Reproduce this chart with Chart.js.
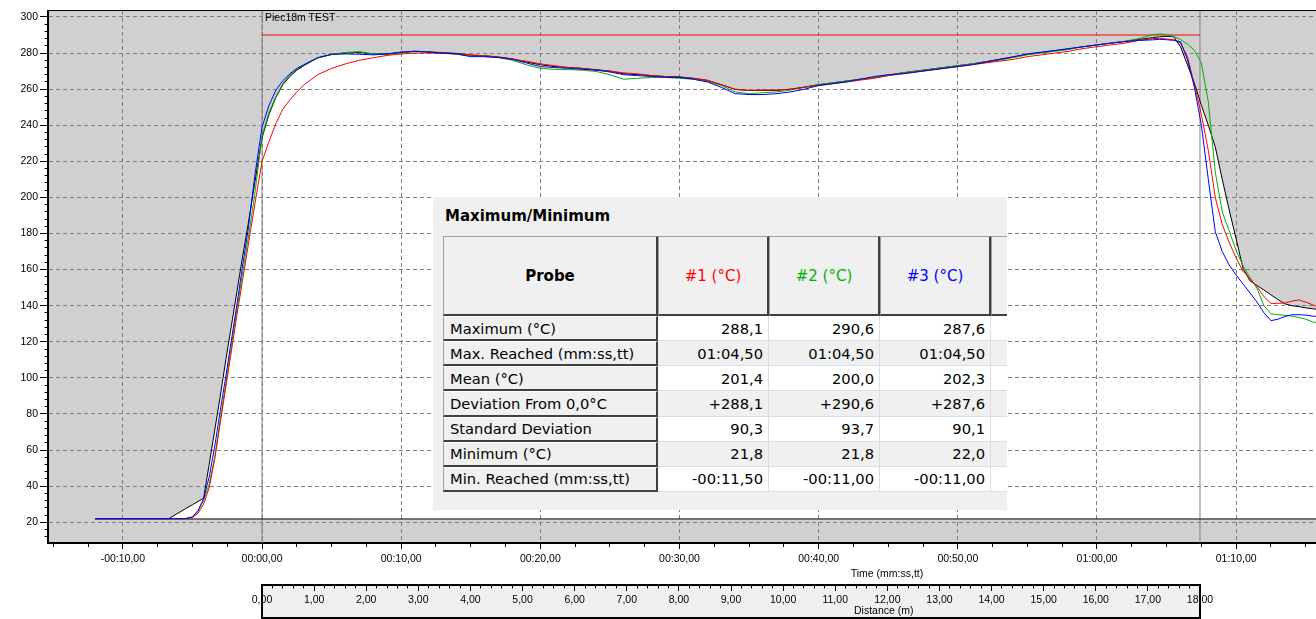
<!DOCTYPE html>
<html><head><meta charset="utf-8">
<script src="https://cdn.jsdelivr.net/npm/chart.js@4.4.1/dist/chart.umd.min.js"></script>
<style>
html,body{margin:0;padding:0;background:#fff;overflow:hidden;width:1316px;height:619px;position:relative;}
#plotbg{position:absolute;left:48px;top:10px;width:1680px;height:533px;background:#d0d0d0;border-top:1px solid #000;box-sizing:border-box;}
#main{position:absolute;left:0;top:0;}
#distbox{position:absolute;left:261px;top:584px;width:940px;height:35px;background:#f0f0f0;border:2px solid #000;box-sizing:border-box;}
#dist{position:absolute;left:0;top:583px;}
.axt{position:absolute;font-family:'Liberation Sans',Arial,sans-serif;font-size:10.5px;color:#000;white-space:nowrap;line-height:12px;}
#panel{position:absolute;left:433px;top:197px;width:574px;height:313px;background:#f0f0f0;overflow:hidden;}
#ptitle{position:absolute;left:12px;top:10px;font-family:'DejaVu Sans',sans-serif;font-weight:bold;font-size:15px;line-height:18px;color:#000;}
#tbl{position:absolute;left:10px;top:39px;width:600px;height:260px;}
.c{position:absolute;box-sizing:border-box;display:flex;align-items:center;font-family:'DejaVu Sans',sans-serif;font-size:14.7px;color:#000;white-space:nowrap;overflow:hidden;}
.hdr{background:#f0f0f0;border-top:1px solid #a0a0a0;border-left:1px solid #a0a0a0;border-right:2px solid #404040;border-bottom:2px solid #404040;justify-content:center;}
.lbl{background:#f0f0f0;border-top:1px solid #ffffff;border-left:1px solid #a0a0a0;border-right:2px solid #404040;border-bottom:2px solid #404040;padding-left:6px;}
.dat{border-right:1px solid #d9dee5;border-bottom:1px solid #d9dee5;justify-content:flex-end;padding-right:5px;}
</style></head>
<body>
<div id="plotbg"></div>
<canvas id="main" width="1740" height="585"></canvas>
<div class="axt" style="left:265px;top:11px;">Piec18m TEST</div>
<div id="distbox"></div>
<canvas id="dist" width="1316" height="36"></canvas>
<div class="axt" style="left:854px;top:604px;">Distance (m)</div>
<div id="panel"><div id="ptitle">Maximum/Minimum</div><div id="tbl"></div></div>
<script>
// ---------- data ----------
const timeS = [-12, -6.7, -5.5, -5, -4.6, -4.2, -3.8, -3.4, -3, -2.6, -2.2, -1.8, -1.4, -1, -0.5,
  0, 0.5, 1, 1.5, 2, 2.5, 3,
  4, 5, 6, 7, 8, 9, 10, 11, 12, 13, 14, 15, 16, 17, 18, 19, 20, 21, 22, 23, 24, 25, 26, 27, 28, 29, 30,
  31, 32, 33, 34, 35, 36, 37, 38, 39, 40, 41, 42, 43, 44, 45, 46, 47, 48, 49, 50, 51, 52, 53, 54, 55,
  56, 57, 58, 59, 60, 61, 62, 63, 64,
  64.5, 65, 65.5, 66, 66.5, 67, 67.5, 68, 68.5, 69, 69.5, 70, 70.5, 71, 71.5, 72, 72.5, 73, 73.5, 74,
  74.5, 75, 75.5, 76, 77];

const probe1 = [22, 22, 22, 22.5, 25, 30, 39, 55, 75, 95, 115, 135, 154, 173, 197,
  220, 231, 241, 249, 254, 258.5, 262.3,
  268, 271.5, 274, 276, 277.4, 278.7, 279.5, 280, 280, 279.8, 279.5, 279, 278.5, 277.8, 276.5, 275.5, 274, 273, 272, 271.5, 270.5, 270, 269, 268.5, 267.5, 267, 266.5,
  266, 265, 262.5, 260, 259.3, 259.5, 259.5, 260, 261, 262, 263, 264, 265, 266, 267.5, 268.5, 269.5, 270.5, 271.5, 272.5, 273.5, 274.5, 275.5, 276.5, 278,
  279, 280, 281, 282.5, 283.5, 284.5, 285.5, 287, 288,
  288.1, 287.8, 287.5, 285.5, 278, 262.5, 246, 226, 200, 185, 175, 166.5, 159, 155, 150.5, 145, 141.3, 141.3, 141.5, 142.5,
  143.2, 142, 140.5, 139, 137];

const probe2 = [22, 22, 22, 22.8, 26, 32, 41, 56, 77, 97, 118, 138, 158, 177, 203,
  234, 247, 256, 263, 268, 271, 273.5,
  277.2, 279.2, 280.3, 280.8, 279.5, 279.2, 280, 280.8, 280.5, 280, 279.3, 278.3, 278, 277.5, 276, 273.5, 271.5, 271, 270.8, 270.5, 269.8, 268, 265.5, 266, 266.5, 266.5, 266,
  265.5, 264.2, 262, 258.5, 257.5, 258, 258.5, 259.5, 261, 262.5, 263.5, 264.5, 265.5, 266.5, 267.5, 269, 270, 271, 272, 273, 274, 275, 276, 277.5, 279,
  280, 281, 282, 283.5, 284.5, 285.5, 286.5, 288, 290.2,
  290.6, 290.3, 289.2, 287.5, 285, 281.5, 274.5, 253, 214, 192, 181.5, 170.5, 162, 155.5, 149.5, 140, 135.5, 135, 134.7, 134.2,
  133.5, 132.5, 131, 130, 128];

const probe3 = [22, 22, 22, 23, 26.5, 33, 45, 62, 82, 101, 121, 141, 162, 182, 213,
  239, 251, 259.5, 264.7, 268.5, 271.5, 273.5,
  277.5, 279.3, 279.5, 279.3, 279, 279.5, 280.5, 281, 280.5, 280, 279.5, 278, 278, 277.5, 276.5, 274.5, 272.5, 272, 271.5, 271, 270.5, 269.5, 268, 267.5, 267, 266.5, 266.5,
  265.5, 264, 261, 257.5, 257, 257, 257.5, 258.5, 260, 262, 263, 264, 265.5, 267, 268, 268.5, 269.5, 270.5, 271.5, 272.5, 273.5, 275, 276.5, 278, 279.5,
  280.5, 281.5, 282.5, 283.5, 284.5, 285.5, 286.3, 287, 287.3,
  287.6, 287.4, 287, 286.3, 276.5, 261, 240, 210, 181, 170, 162.5, 157, 152, 147, 142, 136, 131.7, 132.5, 134, 135,
  135, 134.8, 134.2, 134, 132];

const profile = [22, 22, 27.5, 29.7, 31.5, 33.3, 52, 71, 90, 110, 129, 148, 167, 185, 209,
  233, 246, 255.5, 262.5, 267, 270.5, 273,
  277.3, 279.2, 280, 280.3, 279.5, 279.5, 280.5, 281, 280.7, 280.2, 279.8, 278.8, 278.5, 277.8, 276.8, 275, 273.5, 272.5, 272, 271.5, 270.8, 270, 268.5, 268, 267.5, 267, 266.8,
  266, 264.8, 262.5, 259.8, 259.2, 259.3, 259.3, 260, 261.2, 262.5, 263.5, 264.5, 265.5, 266.5, 267.8, 269, 270, 271, 272, 273, 274, 275.2, 276.5, 277.8, 279.3,
  280.3, 281.2, 282.3, 283.5, 284.5, 285.5, 286.5, 287.5, 288.5,
  289, 289.2, 289, 283.5, 273.5, 263.3, 251, 240, 228, 210, 193, 177, 160.5, 153.7, 151.2, 148.7, 146, 143.4, 141, 140,
  139.5, 138.8, 138.3, 137.8, 136.5];

const baseTime = [-12, 106];
const baseTemp = [21.8, 21.8];
const ovenTime = [0, 67.4];      // oven entry / exit (s)
const zoneTemp = 290;           // Piec18m TEST set line
const yRange = [8.5, 303.3];
const xRange = [-15.38, 105.2];
const distRange = [0, 18];

const statRows = ['Maximum (°C)', 'Max. Reached (mm:ss,tt)', 'Mean (°C)', 'Deviation From 0,0°C', 'Standard Deviation', 'Minimum (°C)', 'Min. Reached (mm:ss,tt)'];
const probeHeaders = ['#1 (°C)', '#2 (°C)', '#3 (°C)'];
const probe1Stats = ['288,1', '01:04,50', '201,4', '+288,1', '90,3', '21,8', '-00:11,50'];
const probe2Stats = ['290,6', '01:04,50', '200,0', '+290,6', '93,7', '21,8', '-00:11,00'];
const probe3Stats = ['287,6', '01:04,50', '202,3', '+287,6', '90,1', '22,0', '-00:11,00'];

// ---------- helpers ----------
const RED = '#ff0000', GREEN = '#00b000', BLUE = '#0000ff';
const FONT = {family: "'Liberation Sans', Arial, sans-serif", size: 10.5};
const pts = (xs, ys) => xs.map((x, i) => ({x: x, y: ys[i]}));
function fmtTime(v) {
  const r = Math.round(v * 100) / 100;
  const sgn = r < 0 ? '-' : '';
  const a = Math.abs(r);
  const m = Math.floor(a / 60 + 1e-9);
  const s = a - m * 60;
  return sgn + String(m).padStart(2, '0') + ':' + s.toFixed(2).padStart(5, '0').replace('.', ',');
}
const lineDs = (label, data, color, extra) => Object.assign({
  label, data, borderColor: color, borderWidth: 1, pointRadius: 0, tension: 0, fill: false,
  xAxisID: 'x', yAxisID: 'y'
}, extra || {});

const datasets = [
  lineDs('#3', pts(timeS, probe3), BLUE),
  lineDs('#1', pts(timeS, probe1), RED),
  lineDs('#2', pts(timeS, probe2), GREEN),
  lineDs('profile', pts(timeS, profile), '#000000', {fill: {target: 4, above: '#ffffff', below: '#ffffff'}}),
  lineDs('base', pts(baseTime, baseTemp), '#000000'),
  lineDs('zone', pts(ovenTime, [zoneTemp, zoneTemp]), RED),
  lineDs('entry', pts([ovenTime[0], ovenTime[0]], yRange), '#808080'),
  lineDs('exit', pts([ovenTime[1], ovenTime[1]], yRange), '#808080')
];

new Chart(document.getElementById('main'), {
  type: 'line',
  data: {datasets},
  options: {
    responsive: false, animation: false, devicePixelRatio: 1,
    layout: {padding: {left: 0, top: 11, right: 14, bottom: 0}},
    plugins: {legend: {display: false}, tooltip: {enabled: false}, filler: {drawTime: 'beforeDraw'}},
    scales: {
      x: {
        type: 'linear', position: 'bottom', weight: 1, min: xRange[0], max: xRange[1],
        ticks: {stepSize: 10, includeBounds: false, autoSkip: false, maxRotation: 0, padding: 3.7, color: '#000', font: FONT, callback: v => fmtTime(v)},
        grid: {color: '#808080', lineWidth: 1, tickLength: 6, tickColor: '#000', tickWidth: 1, tickBorderDash: []},
        border: {display: true, color: '#000', width: 2, dash: [4, 3]},
        title: {display: true, text: 'Time (mm:ss,tt)', color: '#000', font: FONT, padding: {top: 0, bottom: 4.7}},
        afterFit: s => { s.height = 42; }
      },
      xMinor: {
        type: 'linear', axis: 'x', position: 'bottom', weight: 0, min: xRange[0], max: xRange[1],
        ticks: {stepSize: 2.5, includeBounds: false, display: false},
        grid: {drawOnChartArea: false, tickLength: 4, tickColor: '#000', tickWidth: 1, tickBorderDash: []},
        border: {display: false},
        afterFit: s => { s.height = 0; }
      },
      y: {
        type: 'linear', position: 'left', weight: 1, min: yRange[0], max: yRange[1],
        ticks: {stepSize: 20, includeBounds: false, autoSkip: false, padding: 2, color: '#000', font: FONT, callback: v => String(Math.round(v))},
        grid: {color: '#808080', lineWidth: 1, tickLength: 8, tickColor: '#000', tickWidth: 1, tickBorderDash: []},
        border: {display: true, color: '#000', width: 2, dash: [4, 3]},
        afterFit: s => { s.width = 48; }
      },
      yMinor: {
        type: 'linear', axis: 'y', position: 'left', weight: 0, min: yRange[0], max: yRange[1],
        ticks: {stepSize: 4, includeBounds: false, display: false},
        grid: {drawOnChartArea: false, tickLength: 3.5, tickColor: '#000', tickWidth: 1, tickBorderDash: []},
        border: {display: false},
        afterFit: s => { s.width = 0; }
      }
    }
  }
});

// distance axis
new Chart(document.getElementById('dist'), {
  type: 'line',
  data: {datasets: []},
  options: {
    responsive: false, animation: false, devicePixelRatio: 1,
    layout: {padding: {left: 262, top: 0, right: 116, bottom: 0}},
    plugins: {legend: {display: false}, tooltip: {enabled: false}},
    scales: {
      x: {
        type: 'linear', position: 'bottom', weight: 1, min: distRange[0], max: distRange[1],
        ticks: {stepSize: 1, autoSkip: false, maxRotation: 0, padding: 2.7, color: '#000', font: FONT,
          callback: v => (Math.round(v * 100) / 100).toFixed(2).replace('.', ',')},
        grid: {drawOnChartArea: false, tickLength: 6, tickColor: '#000', tickWidth: 1},
        border: {display: true, color: '#000', width: 2},
        afterFit: s => { s.height = 34; }
      },
      xMinor: {
        type: 'linear', axis: 'x', position: 'bottom', weight: 0, min: distRange[0], max: distRange[1],
        ticks: {stepSize: 0.2, display: false},
        grid: {drawOnChartArea: false, tickLength: 3.5, tickColor: '#000', tickWidth: 1},
        border: {display: false},
        afterFit: s => { s.height = 0; }
      },
      y: {display: false, min: 0, max: 1}
    }
  }
});

// ---------- statistics table ----------
const tbl = document.getElementById('tbl');
function cell(x, y, w, h, cls, text, style) {
  const d = document.createElement('div');
  d.className = 'c ' + cls;
  d.style.left = x + 'px'; d.style.top = y + 'px';
  d.style.width = w + 'px'; d.style.height = h + 'px';
  if (style) Object.assign(d.style, style);
  d.textContent = text;
  tbl.appendChild(d);
}
const colX = [0, 215, 326, 437, 548];
const colW = [215, 111, 111, 111, 60];
const headH = 80, rowH = 25.15;
const headColors = [RED, GREEN, BLUE];
cell(colX[0], 0, colW[0], headH, 'hdr', 'Probe', {fontWeight: 'bold', fontSize: '15px'});
probeHeaders.forEach((h, i) => cell(colX[i + 1], 0, colW[i + 1], headH, 'hdr', h, {color: headColors[i], fontSize: '15px'}));
cell(colX[4], 0, colW[4], headH, 'hdr', '');
const stats = [probe1Stats, probe2Stats, probe3Stats];
statRows.forEach((lab, r) => {
  const y = headH + r * rowH;
  const bg = r % 2 === 0 ? '#ffffff' : '#f0f0f0';
  cell(colX[0], y, colW[0], rowH, 'lbl', lab);
  stats.forEach((s, i) => cell(colX[i + 1], y, colW[i + 1], rowH, 'dat', s[r], {background: bg}));
  cell(colX[4], y, colW[4], rowH, 'dat', '', {background: bg});
});
</script>
</body></html>
